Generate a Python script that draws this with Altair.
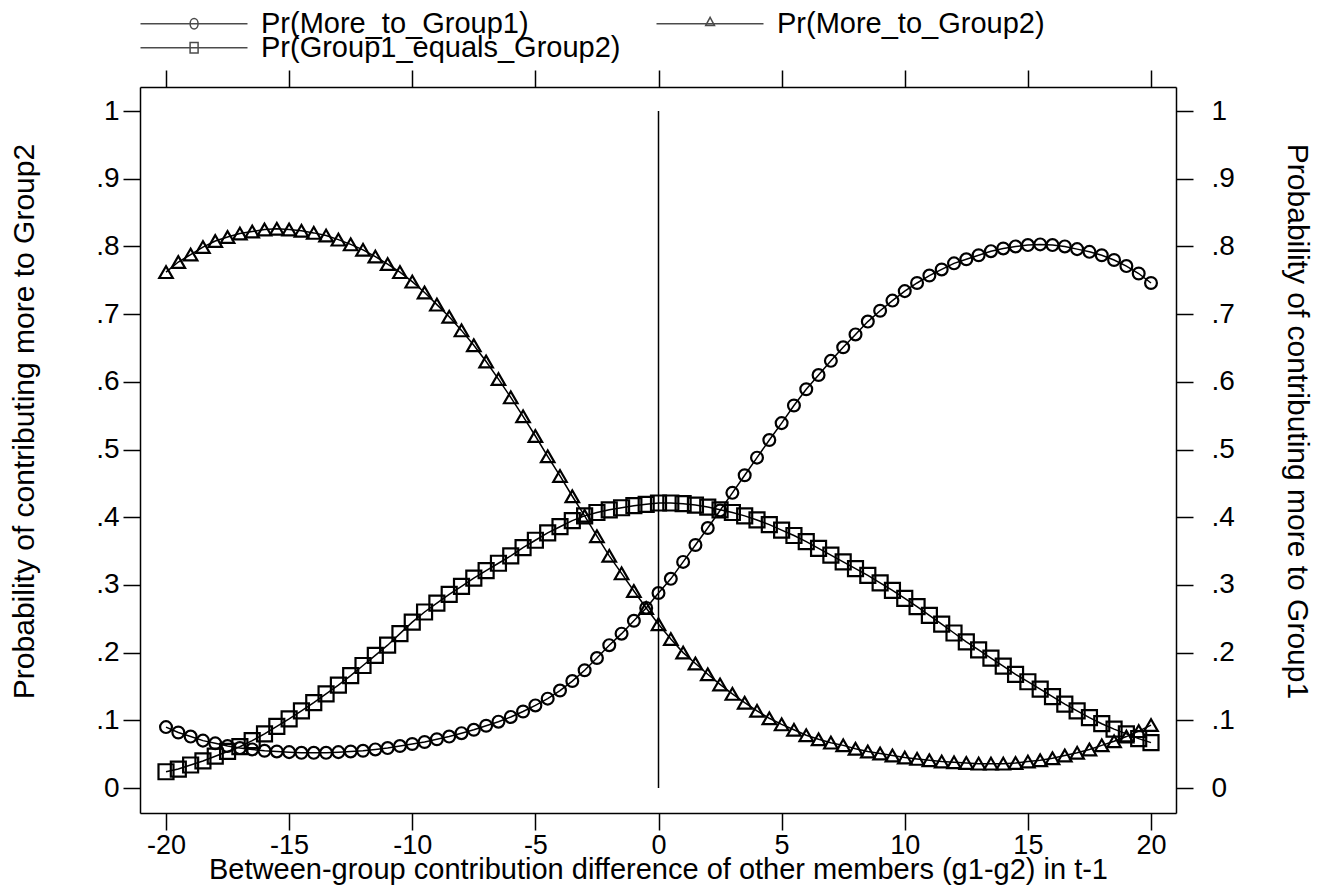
import altair as alt
import pandas as pd

# ---------------- data ----------------
X_VALUES = [i * 0.5 for i in range(-40, 41)]  # -20 .. 20 step 0.5

SERIES = ["Pr(More_to_Group1)", "Pr(More_to_Group2)", "Pr(Group1_equals_Group2)"]

MORE_TO_G1 = [
    .090, .082, .076, .070, .066, .062, .059, .057, .055, .054,
    .053, .052, .052, .052, .053, .054, .055, .057, .059, .062,
    .065, .068, .072, .076, .081, .086, .092, .098, .105, .113,
    .122, .132, .144, .158, .174, .192, .211, .228, .247, .266,
    .288, .309, .334, .359, .384, .410, .436, .462, .488, .514,
    .539, .565, .589, .610, .631, .651, .670, .689, .705, .720,
    .734, .746, .757, .766, .775, .781, .787, .793, .797, .800,
    .802, .803, .802, .800, .796, .792, .787, .780, .771, .760,
    .746,
]

MORE_TO_G2 = [
    .762, .777, .788, .799, .808, .814, .819, .822, .825, .826,
    .825, .823, .820, .816, .810, .803, .795, .785, .774, .762,
    .748, .732, .714, .696, .676, .654, .630, .604, .577, .549,
    .520, .490, .461, .431, .402, .372, .343, .317, .291, .266,
    .242, .220, .200, .184, .168, .153, .139, .126, .114, .103,
    .094, .086, .078, .072, .067, .063, .058, .054, .051, .048,
    .045, .043, .041, .039, .038, .037, .036, .036, .036, .037,
    .039, .041, .044, .048, .052, .057, .063, .069, .076, .084,
    .093,
]

EQUALS = [
    .024, .028, .034, .040, .047, .054, .061, .070, .080, .091,
    .102, .114, .126, .139, .152, .166, .181, .196, .211, .228,
    .245, .260, .273, .286, .298, .310, .321, .332, .343, .355,
    .366, .377, .386, .395, .402, .407, .411, .414, .417, .419,
    .421, .421, .420, .418, .415, .411, .407, .402, .396, .389,
    .381, .373, .364, .354, .344, .334, .324, .314, .303, .292,
    .280, .268, .255, .242, .229, .216, .204, .192, .180, .168,
    .157, .146, .135, .124, .114, .104, .095, .087, .080, .073,
    .067,
]

X_TICKS = [-20, -15, -10, -5, 0, 5, 10, 15, 20]
Y_TICKS = [0, 0.1, 0.2, 0.3, 0.4, 0.5, 0.6, 0.7, 0.8, 0.9, 1.0]

RULE_X = [0]
RULE_Y = [0]
RULE_Y2 = [1]

X_TITLE = "Between-group contribution difference of other members (g1-g2) in t-1"
Y_LEFT_TITLE = "Probability of contributing more to Group2"
Y_RIGHT_TITLE = "Probability of contributing more to Group1"

rows = []
for name, vals in zip(SERIES, [MORE_TO_G1, MORE_TO_G2, EQUALS]):
    for xv, v in zip(X_VALUES, vals):
        rows.append({"x": xv, "value": v, "series": name})
df = pd.DataFrame(rows)
rule_df = pd.DataFrame({"x": RULE_X, "y": RULE_Y, "y2": RULE_Y2})

# ---------------- styling ----------------
FONT = "Liberation Sans"
X_DOMAIN = [-21.056, 21.015]
Y_DOMAIN = [-0.0369, 1.0355]

xs = alt.Scale(domain=X_DOMAIN, nice=False, zero=False)
ys = alt.Scale(domain=Y_DOMAIN, nice=False, zero=False)

common = dict(
    domainColor="black", domainWidth=1.5, tickColor="black", tickWidth=1.5,
    tickSize=17, labelFont=FONT, labelColor="black", titleFont=FONT,
    titleColor="black", titleFontWeight="normal", grid=False,
)
ylab = "datum.value == 0 ? '0' : (datum.value == 1 ? '1' : replace(format(datum.value, '.1f'), '0.', '.'))"
xlab = "'' + datum.value"

x_bottom = alt.X("x:Q", scale=xs, axis=alt.Axis(
    orient="bottom", values=X_TICKS, labelExpr=xlab, labelFontSize=27,
    titleFontSize=29, title=X_TITLE, labelPadding=2, titlePadding=-3, **common))
y_left = alt.Y("value:Q", scale=ys, axis=alt.Axis(
    orient="left", values=Y_TICKS, labelExpr=ylab, labelFontSize=28,
    titleFontSize=30, title=Y_LEFT_TITLE, labelPadding=4,
    titleX=-101, titleY=334, **common))

x_top = alt.X("x:Q", scale=xs, axis=alt.Axis(
    orient="top", values=X_TICKS, labels=False, title=None, **common))
y_right = alt.Y("y:Q", scale=ys, axis=alt.Axis(
    orient="right", values=Y_TICKS, labelExpr=ylab, labelFontSize=28,
    titleFontSize=30, title=Y_RIGHT_TITLE, labelPadding=18,
    titleX=105, titleY=334, **common))

lines = alt.Chart(df).mark_line(color="black", strokeWidth=1.5).encode(
    x=x_bottom, y=y_left, detail="series:N", order="x:Q")

points = alt.Chart(df).mark_point(filled=False, color="black", strokeWidth=2.2, opacity=1).encode(
    x=alt.X("x:Q", scale=xs, axis=None),
    y=alt.Y("value:Q", scale=ys, axis=None),
    shape=alt.Shape("series:N", scale=alt.Scale(domain=SERIES, range=["circle", "triangle-up", "square"]), legend=None),
    size=alt.Size("series:N", scale=alt.Scale(domain=SERIES, range=[140, 225, 144]), legend=None),
)

rule = alt.Chart(rule_df).mark_rule(color="black", strokeWidth=1.5).encode(
    x=x_top, y=y_right, y2="y2:Q")

# legend symbols: line with a marker in the middle (units of 4 px)
LINE = "M-1,0H25.75"
LEGEND_PATHS = [
    LINE + "M11.4,0A1.0,1.3 0 1,0 13.4,0A1.0,1.3 0 1,0 11.4,0",
    LINE + "M12.4,-1.6L13.5,0.45L11.3,0.45Z",
    LINE + "M11.4,-1.3H13.4V1.3H11.4Z",
]


def legend_layer(domain, paths, ly, col_pad):
    return alt.Chart(df).transform_filter("datum.x > 1000").mark_point(
        filled=False, color="black", strokeWidth=1.5, size=64).encode(
        x=alt.X("x:Q", scale=xs, axis=None),
        y=alt.Y("value:Q", scale=ys, axis=None),
        shape=alt.Shape("series:N", scale=alt.Scale(domain=domain, range=paths),
                        legend=alt.Legend(
                            orient="none", legendX=-10, legendY=ly, columns=2, title=None,
                            direction="horizontal",
                            symbolSize=64, symbolStrokeColor="black", symbolStrokeWidth=1.5,
                            symbolFillColor="transparent",
                            labelFont=FONT, labelFontSize=29, labelColor="black",
                            labelOffset=102, labelLimit=0, columnPadding=col_pad,
                            padding=0, labelBaseline="middle")),
    )


legend_row1 = legend_layer(SERIES[:2], LEGEND_PATHS[:2], -78, 117)
legend_row2 = legend_layer(SERIES[2:], LEGEND_PATHS[2:], -54, 0)

chart = alt.layer(lines, points, rule, legend_row1, legend_row2).resolve_scale(
    x="independent", y="independent", shape="independent", size="independent"
).properties(
    width=1036, height=726,
    padding={"left": 132, "top": 79, "right": 140, "bottom": 76},
    autosize=alt.AutoSizeParams(type="none"),
).configure_view(stroke=None).configure(background="white")

chart.save("out.html", embed_options={"renderer": "svg", "actions": False})
